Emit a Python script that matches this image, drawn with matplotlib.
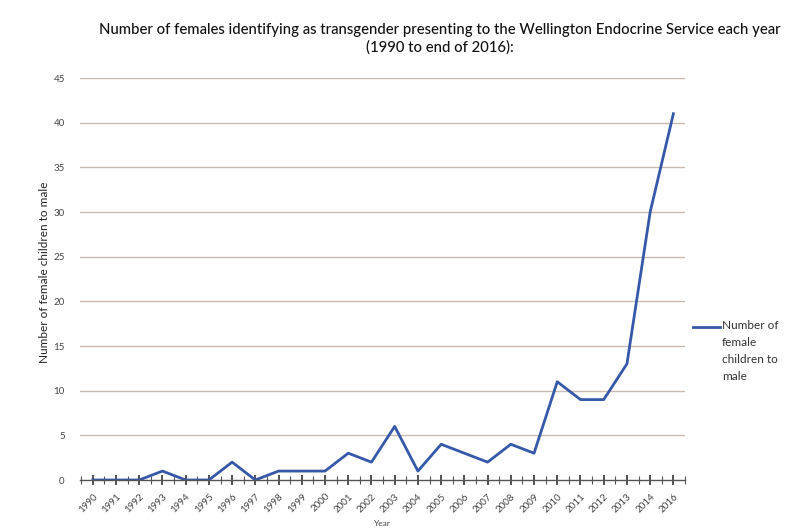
import matplotlib
matplotlib.use("Agg")
import matplotlib.pyplot as plt
from matplotlib.lines import Line2D
import numpy as np

years = ["1990", "1991", "1992", "1993", "1994", "1995", "1996", "1997", "1998",
         "1999", "2000", "2001", "2002", "2003", "2004", "2005", "2006", "2007",
         "2008", "2009", "2010", "2011", "2012", "2013", "2014", "2016"]
counts = [0, 0, 0, 1, 0, 0, 2, 0, 1, 1, 1, 3, 2, 6, 1, 4, 3, 2, 4, 3, 11, 9, 9, 13, 30, 41]
yticks = [0, 5, 10, 15, 20, 25, 30, 35, 40, 45]
series_name = 'Number of\nfemale\nchildren to\nmale'

plt.rcParams['font.family'] = ['Lato', 'DejaVu Sans']

fig = plt.figure(figsize=(8.12, 5.28), dpi=100)
ax = fig.add_axes([80/812, 1-480/528, (685-80)/812, (480-78)/528])

x = np.arange(len(years))
line_color = '#3558a8'
ax.plot(x, counts, color=line_color, lw=2.0)

ax.set_ylim(0, 45)
ax.set_xlim(-0.55, len(years) - 0.55)
ax.set_yticks(yticks)
ax.set_yticklabels([str(v) for v in yticks], fontsize=7, color='#444444')
for v in yticks[1:]:
    ax.axhline(v, color='#c9b9b0', lw=1.0, zorder=0)

ax.set_xticks(x)
ax.set_xticklabels(years, rotation=45, ha='right', rotation_mode='anchor', fontsize=7, color='#444444')
ax.set_xticks(np.arange(-0.5, len(years), 1.0), minor=True)
ax.tick_params(axis='x', which='major', direction='inout', length=7, width=1.2, color='#333333', pad=5)
ax.tick_params(axis='x', which='minor', direction='inout', length=6, width=0.8, color='#555555')
ax.tick_params(axis='y', length=0, pad=11)

for s in ['top', 'right', 'left']:
    ax.spines[s].set_visible(False)
ax.spines['bottom'].set_color('#555555')
ax.spines['bottom'].set_linewidth(1.0)

fig.text(45/812, 1-272/528, 'Number of female children to male', fontsize=8.5, color='#222222',
         rotation=90, ha='center', va='center')
fig.text(382/812, 1-523/528, 'Year', fontsize=6, color='#444444', ha='center', va='center')

fig.text(440/812, 1-30/528, 'Number of females identifying as transgender presenting to the Wellington Endocrine Service each year',
         fontsize=10.7, ha='center', va='center', color='#111111', fontweight='medium')
fig.text(440/812, 1-47/528, '(1990 to end of 2016):', fontsize=10.7, ha='center', va='center', color='#111111',
         fontweight='medium')

# legend drawn manually
fig.add_artist(Line2D([693/812, 720/812], [1-327/528, 1-327/528], color=line_color, lw=2.0,
                      transform=fig.transFigure))
fig.text(722/812, 1-320/528, series_name, fontsize=8.5, color='#333333', ha='left', va='top',
         linespacing=1.65)

fig.savefig('out.png', dpi=100, facecolor='white')
